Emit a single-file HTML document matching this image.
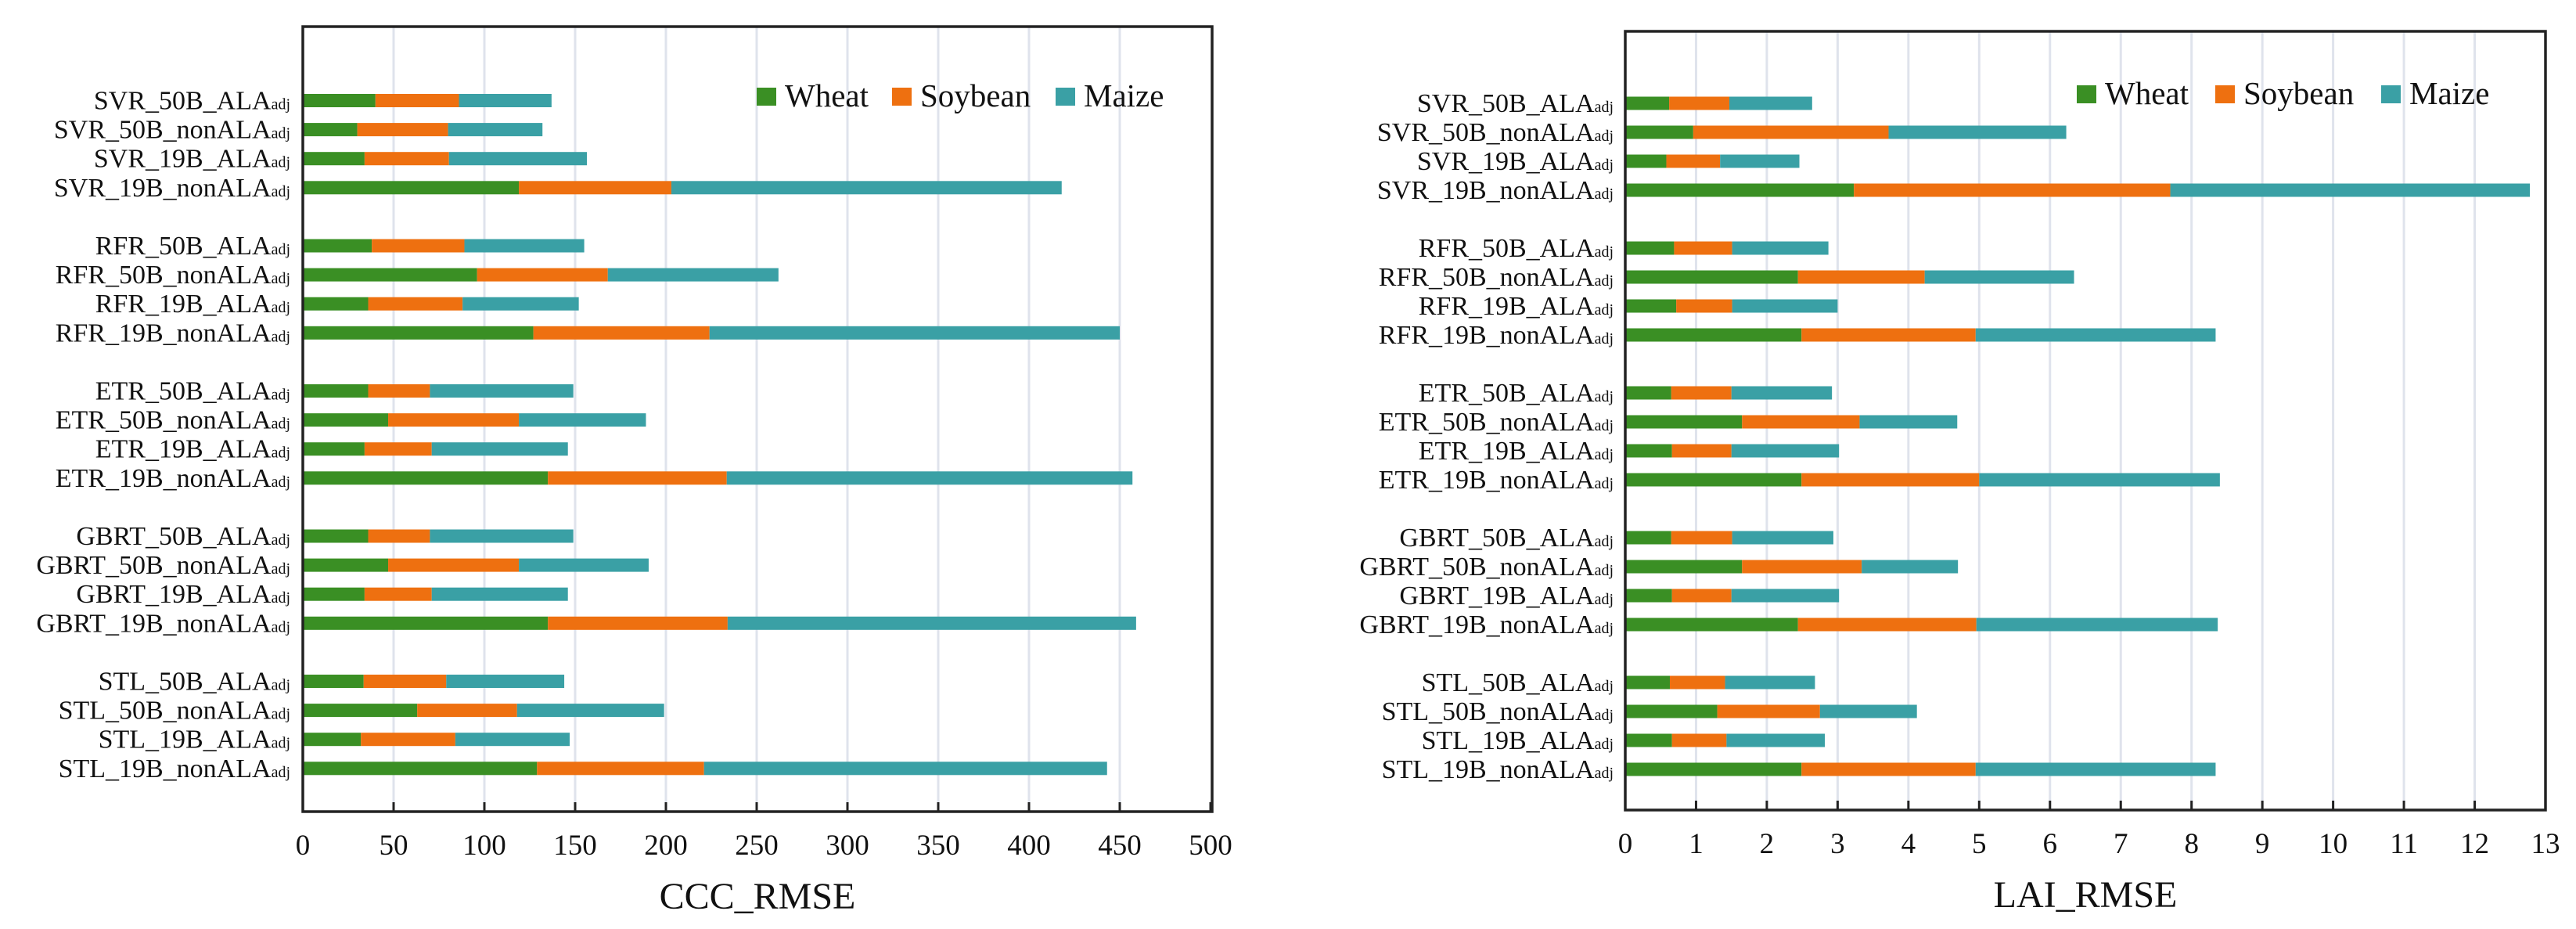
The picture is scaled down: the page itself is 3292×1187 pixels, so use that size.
<!DOCTYPE html>
<html><head><meta charset="utf-8">
<style>
html,body{margin:0;padding:0;background:#fff;}
svg{display:block;font-family:"Liberation Serif",serif;}
</style></head>
<body>
<svg id="fig" width="3292" height="1187" viewBox="0 0 3292 1187" xmlns="http://www.w3.org/2000/svg">
<rect width="3292" height="1187" fill="#fff"/>
</svg>
<script>
const categories = ["SVR_50B_ALA","SVR_50B_nonALA","SVR_19B_ALA","SVR_19B_nonALA",
"RFR_50B_ALA","RFR_50B_nonALA","RFR_19B_ALA","RFR_19B_nonALA",
"ETR_50B_ALA","ETR_50B_nonALA","ETR_19B_ALA","ETR_19B_nonALA",
"GBRT_50B_ALA","GBRT_50B_nonALA","GBRT_19B_ALA","GBRT_19B_nonALA",
"STL_50B_ALA","STL_50B_nonALA","STL_19B_ALA","STL_19B_nonALA"];
const seriesNames = ["Wheat","Soybean","Maize"];
const cccWheat = [40,30,34,119,38,96,36,127,36,47,34,135,36,47,34,135,33.5,63,32,129];
const cccSoybean = [46,50,46.5,84,51,72,52,97,34,72,37,98.5,34,72,37,99,45.5,55,52,92];
const cccMaize = [51,52,76,215,66,94,64,226,79,70,75,223.5,79,71.5,75,225,65,81,63,222];
const laiWheat = [0.62,0.96,0.58,3.23,0.69,2.44,0.72,2.49,0.65,1.65,0.66,2.49,0.65,1.65,0.66,2.44,0.63,1.30,0.66,2.49];
const laiSoybean = [0.85,2.76,0.76,4.47,0.82,1.79,0.79,2.46,0.85,1.66,0.84,2.51,0.86,1.69,0.84,2.52,0.78,1.45,0.77,2.46];
const laiMaize = [1.17,2.51,1.12,5.08,1.36,2.11,1.49,3.39,1.42,1.38,1.52,3.40,1.43,1.36,1.52,3.41,1.27,1.37,1.39,3.39];
const cccTicks = ["0","50","100","150","200","250","300","350","400","450","500"];
const laiTicks = ["0","1","2","3","4","5","6","7","8","9","10","11","12","13"];

const NS="http://www.w3.org/2000/svg";
const svg=document.getElementById('fig');
const colors=["#3a8f24","#ee7010","#3aa0a5"];
function mk(tag,attrs,parent){const e=document.createElementNS(NS,tag);for(const k in attrs)e.setAttribute(k,attrs[k]);(parent||svg).appendChild(e);return e;}

function drawChart(cfg){
  const g=mk('g',{});
  
  
  const maxV=parseFloat(cfg.ticks[cfg.ticks.length-1]);
  const x=v=>cfg.x0+(v/maxV)*(cfg.x1-cfg.x0);
  const rowY=i=>{const slot=i+Math.floor(i/4);return cfg.y0+slot*cfg.step;};
  // gridlines
  cfg.ticks.forEach((t,k)=>{
    const v=parseFloat(t);const xx=x(v);
    if(k>0&&k<cfg.ticks.length-1){
      const gl=mk('line',{x1:xx,x2:xx,y1:cfg.top,y2:cfg.bottom,stroke:"#dfe3ec","stroke-width":3},g);
      
      
    }
    const tk=mk('line',{x1:xx,x2:xx,y1:cfg.bottom-12,y2:cfg.bottom,stroke:"#222","stroke-width":3},g);
    
    
    const tl=mk('text',{x:xx,y:cfg.bottom+55,"font-size":37,"text-anchor":"middle",fill:"#111"},g);
    tl.textContent=t;
    
    
  });
  // bars
  categories.forEach((c,i)=>{
    const cy=rowY(i);
    let acc=0;
    cfg.series.forEach((arr,s)=>{
      const v=arr[i];
      const r=mk('rect',{x:x(acc),y:cy-8.5,width:x(acc+v)-x(acc),height:17,fill:colors[s]},g);
      
      
      acc+=v;
    });
    const t=mk('text',{x:cfg.labelX,y:cy+11,"font-size":34,"text-anchor":"end",fill:"#111"},g);
    
    
    t.appendChild(document.createTextNode(c));
    const sub=mk('tspan',{"font-size":20,dy:0},t);
    sub.textContent="adj";
  });
  // frame
  const fr=mk('rect',{x:cfg.x0,y:cfg.top,width:cfg.frameR-cfg.x0,height:cfg.bottom-cfg.top,fill:"none",stroke:"#222","stroke-width":3.5},g);
  
  
  // legend
  const lg=mk('g',{},g);
  
  
  cfg.legendX.forEach((lx,s)=>{
    const e=mk('g',{},lg);
    
    
    mk('rect',{x:lx,y:cfg.legendY,width:25,height:23,fill:colors[s]},e);
    const lt=mk('text',{x:lx+36,y:cfg.legendY+24,"font-size":41,fill:"#111"},e);
    lt.textContent=seriesNames[s];
  });
  const ti=mk('text',{x:(cfg.x0+cfg.frameR)/2,y:cfg.bottom+124,"font-size":48,"text-anchor":"middle",fill:"#111"},g);
  ti.textContent=cfg.title;
  
  
}

drawChart({name:'ccc-rmse-chart',title:'CCC_RMSE',ticks:cccTicks,series:[cccWheat,cccSoybean,cccMaize],
  x0:387,x1:1547,frameR:1549,top:34,bottom:1037,y0:128.5,step:37.1,labelX:371,
  legendX:[967,1140,1349],legendY:112});
drawChart({name:'lai-rmse-chart',title:'LAI_RMSE',ticks:laiTicks,series:[laiWheat,laiSoybean,laiMaize],
  x0:2077,x1:3253,frameR:3253,top:40,bottom:1035,y0:132,step:37.0,labelX:2062,
  legendX:[2654,2831,3043],legendY:109});
</script>
</body></html>
